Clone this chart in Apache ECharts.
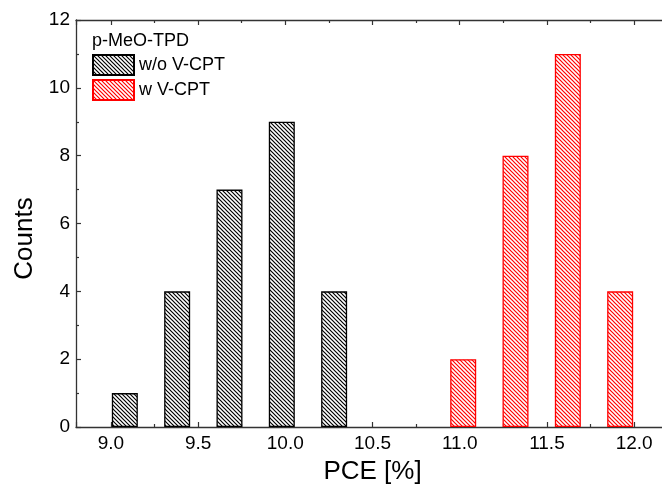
<!DOCTYPE html>
<html>
<head>
<meta charset="utf-8">
<script src="https://cdn.jsdelivr.net/npm/echarts@6/dist/echarts.min.js"></script>
<style>html,body{margin:0;padding:0;background:#fff}#c{width:662px;height:493px}</style>
</head>
<body>
<div id="c"></div>
<script>
// Data
const legendTitle = 'p-MeO-TPD';
const seriesNames = ['w/o V-CPT', 'w V-CPT'];
const pceWithout = [9.08, 9.38, 9.68, 9.98, 10.28];
const countsWithout = [1, 4, 7, 9, 4];
const pceWith = [11.02, 11.32, 11.62, 11.92];
const countsWith = [2, 8, 11, 4];
const xName = 'PCE [%]';
const yName = 'Counts';

function hatch(color) {
  const c = document.createElement('canvas');
  c.width = 4; c.height = 4;
  const ctx = c.getContext('2d');
  ctx.fillStyle = '#fff';
  ctx.fillRect(0, 0, 4, 4);
  ctx.strokeStyle = color;
  ctx.lineWidth = 1.2;
  ctx.beginPath();
  ctx.moveTo(-1, -1); ctx.lineTo(5, 5);
  ctx.moveTo(-1, 3); ctx.lineTo(1, 5);
  ctx.moveTo(3, -1); ctx.lineTo(5, 1);
  ctx.stroke();
  return c;
}
const pairs = (xs, ys) => xs.map((x, i) => [x, ys[i]]);

const font = '"Liberation Sans", Arial, sans-serif';
const axisCommon = {
  axisLine: { lineStyle: { color: '#333', width: 1.3 } },
  axisTick: { inside: true, length: 5, lineStyle: { color: '#333', width: 1.2 } },
  minorTick: { show: true, splitNumber: 2, length: 3, lineStyle: { color: '#333', width: 1.2 } },
  splitLine: { show: false }
};

const chart = echarts.init(document.getElementById('c'), null, { renderer: 'canvas' });
chart.setOption({
  animation: false,
  backgroundColor: '#fff',
  textStyle: { fontFamily: font },
  title: {
    text: legendTitle, left: 92, top: 32, padding: 0,
    textStyle: { fontFamily: font, fontSize: 18, fontWeight: 'normal', color: '#000' }
  },
  legend: {
    orient: 'vertical', left: 92, top: 54, padding: 0,
    itemWidth: 41, itemHeight: 20, itemGap: 3,
    icon: 'rect',
    textStyle: { fontFamily: font, fontSize: 18, color: '#000' },
    data: seriesNames
  },
  grid: { left: 76, top: 20, width: 593, height: 407, containLabel: false, outerBoundsMode: 'none' },
  xAxis: [
    Object.assign({}, axisCommon, {
      type: 'value', min: 8.8, max: 12.2, position: 'bottom',
      name: xName, nameLocation: 'middle', nameGap: 32,
      nameTextStyle: { fontFamily: font, fontSize: 26, color: '#000' },
      axisLabel: { color: '#000', fontSize: 19, fontFamily: font, margin: 7,
        showMinLabel: false, showMaxLabel: false,
        formatter: v => v.toFixed(1) }
    }),
    Object.assign({}, axisCommon, {
      type: 'value', min: 8.8, max: 12.2, position: 'top',
      axisLabel: { show: false }
    })
  ],
  yAxis: Object.assign({}, axisCommon, {
    type: 'value', min: 0, max: 12, interval: 2,
    name: yName, nameLocation: 'middle', nameGap: 36, nameRotate: 90,
    nameTextStyle: { fontFamily: font, fontSize: 26, color: '#000', padding: [0, 30, 0, 0] },
    axisLabel: { color: '#000', fontSize: 19, fontFamily: font, margin: 6 }
  }),
  series: [
    {
      name: seriesNames[0], type: 'bar', xAxisIndex: 0, barWidth: 26, barGap: '-100%',
      itemStyle: { color: { image: hatch('#000'), repeat: 'repeat' }, borderColor: '#000', borderWidth: 1.3 },
      data: pairs(pceWithout, countsWithout)
    },
    {
      name: seriesNames[1], type: 'bar', xAxisIndex: 0, barWidth: 26, barGap: '-100%',
      itemStyle: { color: { image: hatch('#ff0000'), repeat: 'repeat' }, borderColor: '#ff0000', borderWidth: 1.3 },
      data: pairs(pceWith, countsWith)
    }
  ]
});
</script>
</body>
</html>
